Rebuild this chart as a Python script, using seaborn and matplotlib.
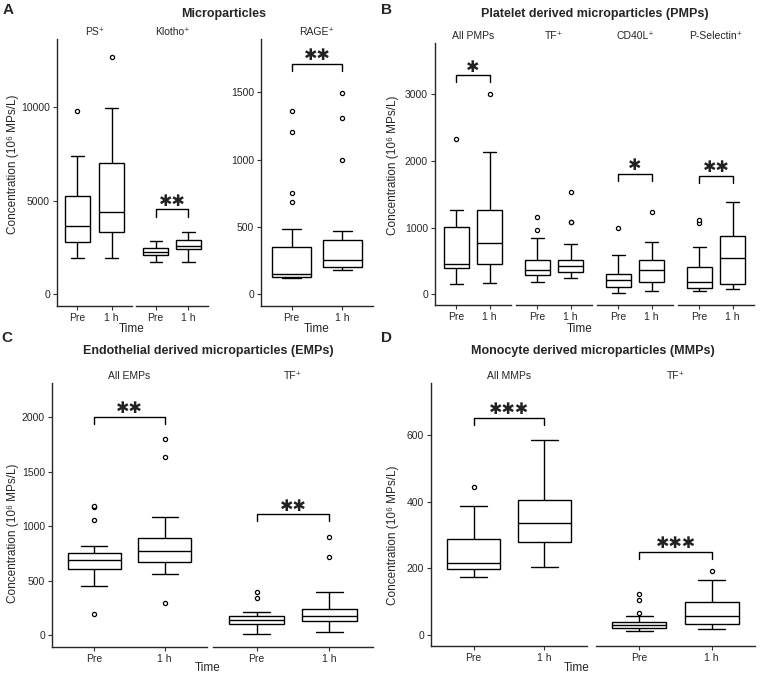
import numpy as np
import pandas as pd
import matplotlib

matplotlib.use("Agg")
import matplotlib.pyplot as plt
import seaborn as sns

sns.set_theme(style="ticks")
plt.rcParams["font.family"] = ["Liberation Sans Narrow", "Liberation Sans", "DejaVu Sans"]
plt.rcParams["axes.linewidth"] = 1.0

TIME = ["Pre", "1 h"]

# ========== 数据: 五数概括 (下须, Q1, 中位数, Q3, 上须) + 离群点 ==========
# A: Microparticles
ps_box = [[1950, 2800, 3640, 5270, 7390], [1950, 3300, 4390, 7000, 9980]]
ps_out = [[9800], [12710]]
klotho_box = [[1700, 2090, 2270, 2450, 2840], [1700, 2390, 2590, 2890, 3340]]
klotho_out = [[], []]
rage_box = [[122, 130, 150, 352, 487], [177, 200, 252, 405, 472]]
rage_out = [[685, 750, 1205, 1360], [1000, 1305, 1495]]

# B: Platelet derived microparticles
pmp_box = [[150, 400, 455, 1015, 1260], [165, 455, 775, 1260, 2140]]
pmp_out = [[2325], [3000]]
pmp_tf_box = [[186, 292, 358, 520, 838], [252, 338, 424, 520, 758]]
pmp_tf_out = [[970, 1156], [1078, 1092, 1535]]
cd40l_box = [[25, 111, 212, 312, 591], [50, 182, 368, 509, 782]]
cd40l_out = [[1000], [1242]]
psel_box = [[50, 101, 186, 409, 717], [76, 161, 550, 868, 1379]]
psel_out = [[1070, 1110], []]

# C: Endothelial derived microparticles
emp_box = [[447, 606, 685, 749, 819], [560, 673, 768, 887, 1080]]
emp_out = [[193, 1055, 1170, 1183], [297, 1630, 1795]]
emp_tf_box = [[12, 98, 134, 171, 208], [28, 125, 171, 236, 394]]
emp_tf_out = [[343, 391], [719, 900]]

# D: Monocyte derived microparticles
mmp_box = [[175, 198, 217, 289, 387], [205, 279, 337, 404, 585]]
mmp_out = [[445], []]
mmp_tf_box = [[11, 22, 31, 40, 56], [17, 33, 58, 98, 166]]
mmp_tf_out = [[65, 105, 122], [193]]

# 显著性: (括号高度, 星号)
klotho_sig = (4536, "✱✱")
rage_sig = (1710, "✱✱")
pmp_sig = (3285, "✱")
cd40l_sig = (1805, "✱")
psel_sig = (1775, "✱✱")
emp_sig = (2000, "✱✱")
emp_tf_sig = (1107, "✱✱")
mmp_sig = (651, "✱✱✱")
mmp_tf_sig = (250, "✱✱✱")

W, H = 760, 675
fig = plt.figure(figsize=(W / 100, H / 100), dpi=100)


def add_ax(x0, y0, x1, y1):
    return fig.add_axes([x0 / W, 1 - y1 / H, (x1 - x0) / W, (y1 - y0) / H])


def draw_facet(ax, box, out, title, ylim, yticks=None, sig=None, xlim=(-0.6, 1.6)):
    df_box = pd.DataFrame({"time": np.repeat(TIME, 5), "value": np.concatenate(box)})
    sns.boxplot(
        data=df_box, x="time", y="value", order=TIME, whis=(0, 100), width=0.75,
        color="white", linecolor="black", linewidth=1.0, ax=ax,
    )
    times = [t for t, vals in zip(TIME, out) for _ in vals]
    if times:
        df_out = pd.DataFrame({"time": times, "value": np.concatenate(out)})
        sns.stripplot(
            data=df_out, x="time", y="value", order=TIME, jitter=False,
            color="white", edgecolor="black", linewidth=0.9, size=3.0, ax=ax, zorder=5,
        )
    ax.set_xlim(*xlim)
    ax.set_ylim(*ylim)
    ax.set_xlabel("")
    ax.set_ylabel("")
    ax.set_title(title, fontsize=7.5, pad=3)
    sns.despine(ax=ax)
    ax.tick_params(axis="both", length=3, width=0.8, labelsize=7.5, pad=2, color="#333333")
    if yticks is None:
        ax.spines["left"].set_visible(False)
        ax.tick_params(axis="y", left=False, labelleft=False)
    else:
        ax.set_yticks(yticks)
        ax.set_yticklabels([str(t) for t in yticks])
    if sig is not None:
        top, stars = sig
        drop = 0.027 * (ylim[1] - ylim[0])
        ax.plot([0, 0, 1, 1], [top - drop, top, top, top - drop], color="black", lw=1.0)
        ax.annotate(stars, xy=(0.5, top), xytext=(0, 0.5), textcoords="offset points",
                    ha="center", va="bottom", fontsize=11.5, color="#222222",
                    family=["DejaVu Sans"])


# ========== A ==========
ylim_a = (-643, 13660)
ax = add_ax(57, 39, 132, 306)
draw_facet(ax, ps_box, ps_out, "PS⁺", ylim_a, yticks=[0, 5000, 10000])
ax = add_ax(136, 39, 208, 306)
draw_facet(ax, klotho_box, klotho_out, "Klotho⁺", ylim_a, sig=klotho_sig)
ax = add_ax(261, 39, 373, 306)
draw_facet(ax, rage_box, rage_out, "RAGE⁺", (-89, 1896), yticks=[0, 500, 1000, 1500], sig=rage_sig)

# ========== B ==========
ylim_b = (-160, 3770)
b_facets = [
    (pmp_box, pmp_out, "All PMPs", pmp_sig),
    (pmp_tf_box, pmp_tf_out, "TF⁺", None),
    (cd40l_box, cd40l_out, "CD40L⁺", cd40l_sig),
    (psel_box, psel_out, "P-Selectin⁺", psel_sig),
]
for i, (box, out, title, sig) in enumerate(b_facets):
    x0 = 435 + i * 81
    ax = add_ax(x0, 43, x0 + 76, 305)
    draw_facet(ax, box, out, title, ylim_b,
               yticks=[0, 1000, 2000, 3000] if i == 0 else None, sig=sig, xlim=(-0.65, 1.65))

# ========== C ==========
ylim_c = (-110, 2312)
ax = add_ax(52, 383, 207, 647)
draw_facet(ax, emp_box, emp_out, "All EMPs", ylim_c, yticks=[0, 500, 1000, 1500, 2000], sig=emp_sig)
ax = add_ax(213, 383, 373, 647)
draw_facet(ax, emp_tf_box, emp_tf_out, "TF⁺", ylim_c, sig=emp_tf_sig)

# ========== D ==========
ylim_d = (-33, 756)
ax = add_ax(431, 383, 587, 646)
draw_facet(ax, mmp_box, mmp_out, "All MMPs", ylim_d, yticks=[0, 200, 400, 600], sig=mmp_sig)
ax = add_ax(596, 383, 755, 646)
draw_facet(ax, mmp_tf_box, mmp_tf_out, "TF⁺", ylim_d, sig=mmp_tf_sig)

# ========== 文字 ==========
ylab = "Concentration (10⁶ MPs/L)"
for letter, x, y in [("A", 8, 10), ("B", 387, 10), ("C", 7, 338), ("D", 387, 338)]:
    fig.text(x / W, 1 - y / H, letter, fontsize=11, fontweight="bold",
             ha="center", va="center", family=["Liberation Sans", "DejaVu Sans"])
for title, x, y in [
    ("Microparticles", 224, 14),
    ("Platelet derived microparticles (PMPs)", 595, 14),
    ("Endothelial derived microparticles (EMPs)", 208, 351),
    ("Monocyte derived microparticles (MMPs)", 593, 351),
]:
    fig.text(x / W, 1 - y / H, title, fontsize=9, fontweight="bold", ha="center", va="center")
for x, y in [(13, 164), (393, 165), (13, 533), (393, 535)]:
    fig.text(x / W, 1 - y / H, ylab, fontsize=8.5, rotation=90, ha="center", va="center")
for x, y in [(132, 329), (317, 329), (580, 329), (208, 668), (577, 668)]:
    fig.text(x / W, 1 - y / H, "Time", fontsize=8.5, ha="center", va="center")

fig.savefig("out.png", dpi=100)
